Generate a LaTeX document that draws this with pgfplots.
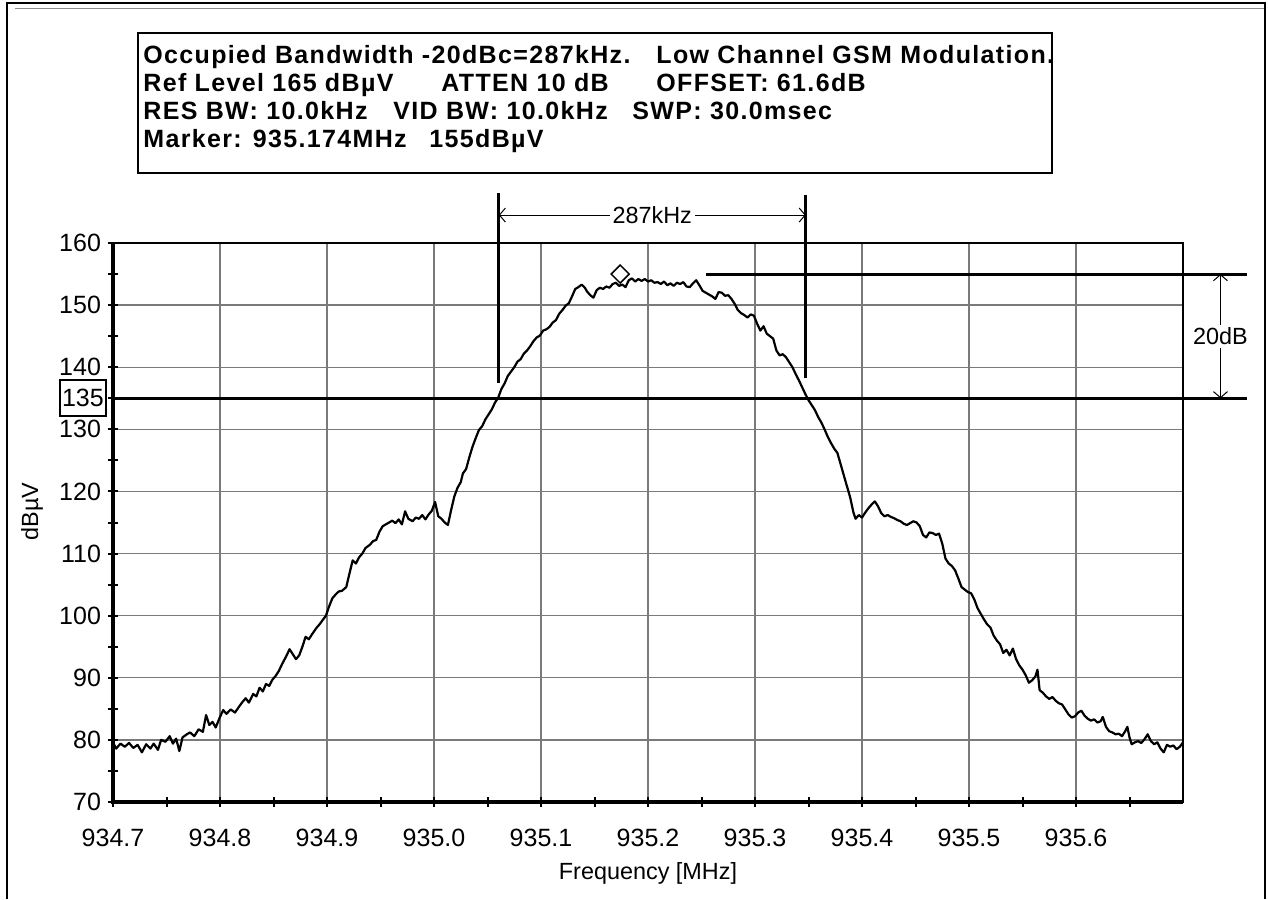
\documentclass[border=0pt]{standalone}
\usepackage{fontspec}
\setmainfont{Liberation Sans}
\newfontfamily\hdrfont{Liberation Sans}[LetterSpace=5.4]
\usepackage{pgfplots}
\pgfplotsset{compat=1.18}
\usepackage{pgfplotstable}
\usetikzlibrary{arrows.meta}

% Spectrum analyser trace: frequency (MHz) and level (dBuV)
\pgfplotstableread{
f dB
934.700 79.6
934.703 78.6
934.707 79.4
934.711 78.9
934.715 79.5
934.719 78.7
934.723 79.2
934.727 78.0
934.731 79.3
934.735 78.6
934.738 79.4
934.742 78.4
934.745 80.0
934.749 79.7
934.753 80.6
934.756 79.4
934.759 80.2
934.762 78.2
934.765 80.4
934.769 80.9
934.772 81.2
934.776 80.6
934.780 81.7
934.784 81.3
934.787 84.0
934.790 82.4
934.793 82.9
934.796 82.0
934.800 83.7
934.803 84.8
934.806 84.2
934.810 84.9
934.814 84.4
934.818 85.4
934.821 86.1
934.824 86.7
934.827 86.0
934.831 87.4
934.834 87.0
934.837 88.4
934.840 87.8
934.843 89.0
934.846 88.7
934.849 89.7
934.852 90.3
934.855 91.1
934.858 92.2
934.862 93.5
934.865 94.6
934.868 93.8
934.871 93.0
934.874 93.6
934.877 95.0
934.880 96.6
934.883 96.2
934.886 97.0
934.890 98.0
934.893 98.6
934.896 99.3
934.899 100.0
934.902 101.5
934.905 102.8
934.908 103.4
934.911 103.9
934.914 104.0
934.918 104.6
934.921 106.8
934.924 108.9
934.927 108.4
934.930 109.4
934.933 110.0
934.936 110.9
934.940 111.4
934.943 112.0
934.946 112.2
934.949 113.5
934.952 114.4
934.955 114.7
934.958 115.0
934.961 115.3
934.964 114.9
934.967 115.5
934.970 114.7
934.973 116.8
934.976 115.6
934.980 115.2
934.983 115.8
934.986 115.6
934.989 116.2
934.992 115.5
934.995 116.3
934.998 116.9
935.001 118.3
935.004 116.0
935.007 115.6
935.010 115.0
935.013 114.6
935.016 117.0
935.019 119.2
935.022 120.6
935.025 121.5
935.027 122.9
935.030 123.6
935.033 125.5
935.036 127.2
935.039 128.6
935.042 129.9
935.045 130.5
935.048 131.6
935.051 132.4
935.054 133.2
935.057 134.3
935.060 135.1
935.063 136.5
935.066 137.4
935.069 138.6
935.072 139.3
935.075 140.0
935.078 140.9
935.081 141.3
935.084 142.2
935.087 142.7
935.090 143.4
935.093 144.2
935.096 144.8
935.099 145.1
935.102 145.9
935.105 146.1
935.108 146.5
935.111 147.2
935.114 147.6
935.117 148.6
935.120 149.2
935.123 149.9
935.126 150.3
935.129 151.4
935.132 152.6
935.135 152.9
935.138 153.3
935.141 152.8
935.143 152.2
935.146 151.6
935.149 151.2
935.152 152.4
935.155 152.8
935.158 152.6
935.161 153.0
935.164 152.8
935.167 153.4
935.170 153.6
935.173 153.1
935.176 153.3
935.179 152.9
935.182 154.0
935.185 154.3
935.188 153.8
935.191 154.2
935.194 153.9
935.197 154.2
935.200 153.8
935.203 154.0
935.206 153.6
935.209 153.7
935.212 153.4
935.215 153.8
935.218 153.2
935.221 153.5
935.224 153.1
935.227 153.6
935.230 153.4
935.233 153.7
935.236 153.0
935.239 152.9
935.242 153.5
935.245 154.0
935.248 153.2
935.251 152.3
935.254 152.0
935.257 151.7
935.260 151.4
935.263 151.0
935.266 152.1
935.269 152.0
935.272 151.5
935.275 151.6
935.278 151.0
935.281 150.2
935.284 149.2
935.287 148.7
935.290 148.4
935.293 148.0
935.296 148.5
935.299 148.3
935.302 147.0
935.305 145.9
935.308 146.6
935.311 145.4
935.314 145.0
935.317 144.6
935.320 142.7
935.323 141.9
935.326 142.1
935.329 141.6
935.332 140.8
935.335 140.0
935.338 138.9
935.341 137.9
935.344 136.8
935.347 135.7
935.350 134.7
935.353 133.9
935.356 133.1
935.359 132.0
935.362 131.1
935.365 130.0
935.368 128.8
935.371 127.8
935.374 126.9
935.377 126.2
935.380 124.4
935.383 122.6
935.386 120.8
935.389 119.0
935.392 116.6
935.394 115.6
935.397 116.2
935.400 115.8
935.403 116.6
935.406 117.3
935.409 117.9
935.412 118.4
935.415 117.6
935.418 116.5
935.421 116.0
935.424 116.2
935.427 115.9
935.430 115.7
935.433 115.4
935.436 115.2
935.439 114.8
935.442 114.6
935.445 114.9
935.448 115.2
935.451 115.0
935.454 114.4
935.457 113.0
935.460 112.6
935.463 113.4
935.466 113.3
935.469 113.0
935.472 113.2
935.475 111.6
935.478 109.2
935.481 108.4
935.484 108.0
935.487 107.3
935.490 106.0
935.493 104.6
935.496 104.2
935.499 103.8
935.502 103.6
935.505 102.6
935.508 101.2
935.511 100.3
935.514 99.4
935.517 98.6
935.520 98.1
935.523 96.8
935.526 96.0
935.529 95.4
935.532 94.0
935.535 94.5
935.538 93.6
935.541 94.7
935.544 93.0
935.547 92.0
935.550 91.3
935.553 90.4
935.556 89.2
935.559 89.6
935.562 90.2
935.564 91.3
935.566 88.0
935.569 87.6
935.572 87.0
935.575 86.6
935.578 86.9
935.581 86.3
935.584 85.9
935.587 85.7
935.590 84.9
935.593 84.1
935.596 83.6
935.599 83.8
935.602 84.4
935.605 84.7
935.608 83.9
935.611 83.4
935.614 83.1
935.617 83.3
935.620 82.8
935.623 83.0
935.625 83.7
935.628 82.1
935.631 81.4
935.634 81.2
935.637 80.9
935.640 81.0
935.643 80.6
935.646 81.4
935.648 82.1
935.650 80.4
935.652 79.3
935.655 79.6
935.658 79.8
935.661 79.5
935.664 80.1
935.667 80.9
935.670 79.8
935.673 79.3
935.676 79.6
935.679 78.6
935.682 78.0
935.685 79.2
935.688 78.9
935.691 79.1
935.694 78.5
935.697 78.9
935.700 79.6
}\spectrum

\newcommand\tickfont{\fontsize{12.5}{14}\selectfont}
\newcommand\notefont{\fontsize{11.7}{13}\selectfont}

\begin{document}
\begin{tikzpicture}[x=1pt,y=1pt]
\useasboundingbox (0,0) rectangle (634,449.5);

% page frame
\draw[line width=1.2pt] (3.5,0) -- (3.5,448) -- (632.5,448) -- (632.5,0);
\draw[black!45, line width=0.6pt] (7.5,445.4) -- (632,445.4);

% instrument settings box
\draw[line width=1pt] (69,363) rectangle (526,433);
\begin{scope}[every node/.style={anchor=base west, inner sep=0pt,
    font=\hdrfont\bfseries\fontsize{12.5}{14}\selectfont}]
  \node at (71.5,417.5) {Occupied Bandwidth -20dBc=287kHz.};
  \node at (328,417.5)  {Low Channel GSM Modulation.};
  \node at (71.5,403.6) {Ref Level 165 dBµV};
  \node at (220.5,403.6){ATTEN 10 dB};
  \node at (328,403.6)  {OFFSET: 61.6dB};
  \node at (71.5,389.6) {RES BW: 10.0kHz};
  \node at (196.5,389.6){VID BW: 10.0kHz};
  \node at (316,389.6)  {SWP: 30.0msec};
  \node at (71.5,375.5) {Marker: 935.174MHz};
  \node at (214.5,375.5){155dBµV};
\end{scope}

\begin{axis}[
  at={(56.5pt,48.5pt)}, anchor=south west,
  scale only axis, width=535pt, height=279.5pt,
  xmin=934.7, xmax=935.7, ymin=70, ymax=160,
  clip=false,
  axis line style={line width=1pt},
  xtick={934.7,934.8,934.9,935.0,935.1,935.2,935.3,935.4,935.5,935.6},
  xticklabels={934.7,934.8,934.9,935.0,935.1,935.2,935.3,935.4,935.5,935.6},
  minor xtick={934.75,934.85,934.95,935.05,935.15,935.25,935.35,935.45,935.55,935.65},
  ytick={70,80,90,100,110,120,130,140,150,160},
  yticklabels={70,80,90,100,110,120,130,140,150,160},
  minor ytick={75,85,95,105,115,125,135,145,155},
  tick pos=left,
  tick align=center,
  major tick length=5pt, minor tick length=5pt,
  every tick/.style={black, line width=1pt},
  xmajorgrids, ymajorgrids,
  major grid style={black!52, line width=0.7pt},
  /pgf/number format/assume math mode=true,
  ticklabel style={font=\tickfont},
  xticklabel style={anchor=center, yshift=-15.5pt},
  xlabel={Frequency [MHz]},
  ylabel={dBµV},
  xlabel style={at={(axis description cs:0.5,0)}, anchor=center, yshift=-35.5pt, font=\notefont},
  ylabel style={at={(axis description cs:-0.0757,0.52)}, anchor=center, font=\notefont},
]
  % measured trace
  \addplot[black, line width=1.1pt, line join=round] table[x=f, y=dB] {\spectrum};

  % peak marker
  \addplot[only marks, mark=square, mark size=3.2pt,
    mark options={rotate=45, line width=0.75pt, black}] coordinates {(935.174,155)};

  % -20 dBc reference and peak reference lines
  \addplot[black, line width=1.5pt] coordinates {(934.7,135) (935.76,135)};
  \addplot[black, line width=1.5pt] coordinates {(935.254,155) (935.76,155)};

  % occupied bandwidth edges
  \addplot[black, line width=1.5pt] coordinates {(935.0605,137.5) (935.0605,168.0)};
  \addplot[black, line width=1.5pt] coordinates {(935.3475,138.2) (935.3475,167.7)};

  % dimension arrows
  \draw[{Straight Barb[length=3pt,width=7pt]}-{Straight Barb[length=3pt,width=7pt]}, line width=0.5pt]
    (axis cs:935.0605,164.5) -- (axis cs:935.3475,164.5)
    node[midway, fill=white, inner xsep=1.5pt, inner ysep=1pt, font=\notefont] {287kHz};
  \draw[{Straight Barb[length=3pt,width=7pt]}-{Straight Barb[length=3pt,width=7pt]}, line width=0.5pt]
    (axis cs:935.735,155) -- (axis cs:935.735,135)
    node[midway, fill=white, inner xsep=0.5pt, inner ysep=1.5pt, font=\notefont] {20dB};

  % boxed reference level label
  \node[draw, line width=1pt, anchor=east, xshift=-3pt, inner xsep=1.1pt,
    inner ysep=0pt, minimum height=18pt, font=\tickfont] at (axis cs:934.7,135) {135};

  % heavier left and bottom axis lines
  \draw[line width=1.6pt] (rel axis cs:0,1) -- (rel axis cs:0,0) -- (rel axis cs:1,0);
\end{axis}
\end{tikzpicture}
\end{document}
